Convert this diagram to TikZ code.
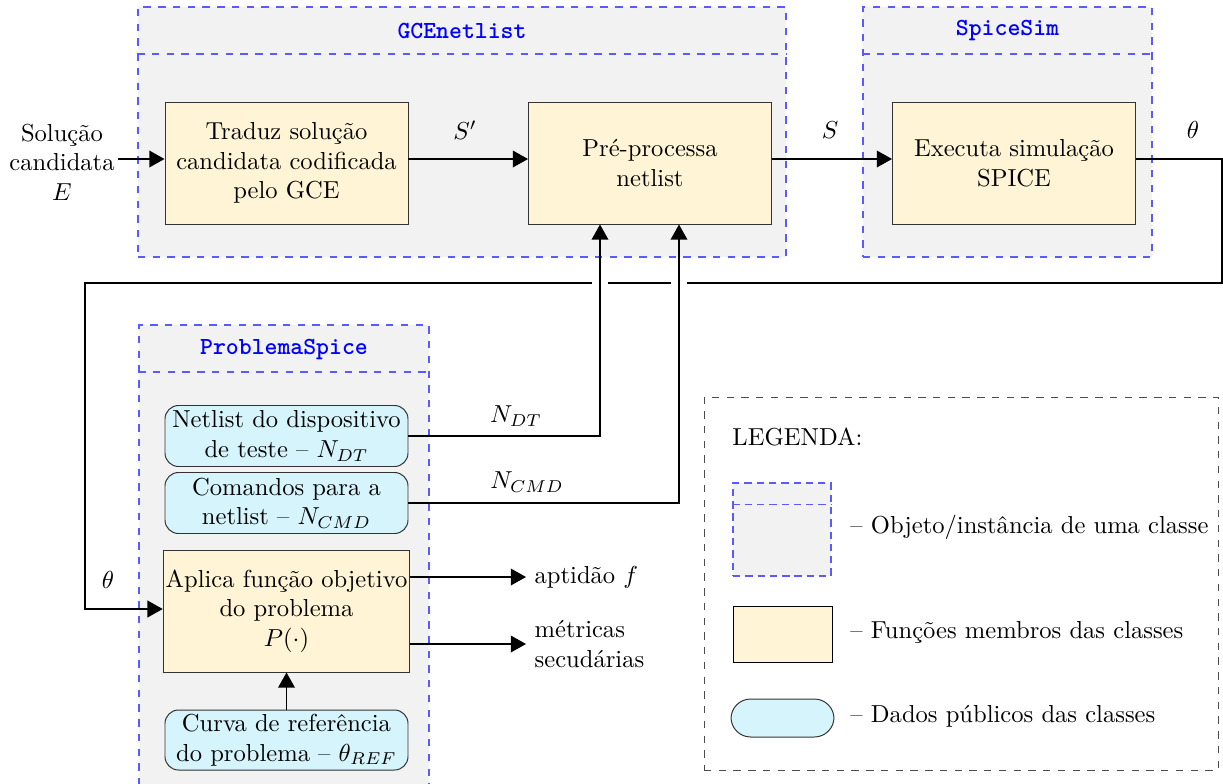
\documentclass[tikz,border=0pt]{standalone}
\usepackage{fontspec}
\usetikzlibrary{arrows.meta,calc}
\definecolor{clsfill}{HTML}{F2F2F2}
\definecolor{clsborder}{HTML}{5A5AFF}
\definecolor{fnfill}{HTML}{FFF4D5}
\definecolor{datafill}{HTML}{D5F4FC}
\definecolor{titleblue}{HTML}{0000FF}
\newcommand{\pxu}{0.407pt}
\begin{document}
\begin{tikzpicture}[x=0.407pt,y=-0.407pt,
  classbox/.style={draw=clsborder, dashed, fill=clsfill, line width=0.65pt, inner sep=0pt},
  hdrline/.style={draw=clsborder, dashed, line width=0.65pt},
  clstitle/.style={font=\ttfamily\bfseries, text=titleblue},
  fnbox/.style={draw=black!80, fill=fnfill, align=center, inner sep=1pt,
     minimum width=243*\pxu, minimum height=122*\pxu},
  databox/.style={draw=black!80, fill=datafill, align=center, inner sep=1pt,
     rounded corners=5.5pt, minimum width=243*\pxu, minimum height=61*\pxu},
  conn/.style={semithick, draw=black},
  arr/.style={conn, -{Triangle[length=6.2pt,width=6.8pt]}},
  lbl/.style={inner sep=1pt}]
\clip (0,0) rectangle (1223,783);
\fill[white] (0,0) rectangle (1223,783);

% class containers
\node[classbox, minimum width=648*\pxu, minimum height=250*\pxu] (gce) at (462,132) {};
\path[hdrline] ($(gce.north west)+(0,47.5)$) -- ($(gce.north east)+(0,47.5)$);
\node[clstitle] (gcet) at (462,31) {GCEnetlist};

\node[classbox, minimum width=289*\pxu, minimum height=250*\pxu] (sps) at (1007.5,132) {};
\path[hdrline] ($(sps.north west)+(0,47.5)$) -- ($(sps.north east)+(0,47.5)$);
\node[clstitle] (spst) at (1007.5,31) {SpiceSim};

\node[classbox, minimum width=290*\pxu, minimum height=500*\pxu] (prb) at (284,575) {};
\path[hdrline] ($(prb.north west)+(0,47.5)$) -- ($(prb.north east)+(0,47.5)$);
\node[clstitle] (prbt) at (284,350) {ProblemaSpice};

% function / data boxes
\node[fnbox] (trad) at (286.5,163) {Traduz solução\\candidata codificada\\pelo GCE};
\node[fnbox] (pre) at (650,163) {Pré-processa\\netlist};
\node[fnbox] (exe) at (1014,163) {Executa simulação\\SPICE};
\node[databox] (ndt) at (286.5,436) {Netlist do dispositivo\\de teste -- $N_{DT}$};
\node[databox] (ncmd) at (286.5,503) {Comandos para a\\netlist -- $N_{CMD}$};
\node[fnbox] (apl) at (286.5,611) {Aplica função objetivo\\do problema\\$P(\cdot)$};
\node[databox, minimum height=60*\pxu] (curva) at (286.5,740) {Curva de referência\\do problema -- $\theta_{REF}$};

% input
\node[align=center, inner sep=1pt] (inp) at (62,162) {Solução\\candidata\\$E$};

% labels
\node[lbl] (ls1) at (465,130) {$S'$};
\node[lbl] (ls2) at (830,130) {$S$};
\node[lbl] (lth1) at (1193,130) {$\theta$};
\node[lbl] (lth2) at (108,580) {$\theta$};
\node[lbl] (lndt) at (516,416) {$N_{DT}$};
\node[lbl] (lncmd) at (527,482) {$N_{CMD}$};
\node[anchor=west] (apt) at (526,577) {aptidão $f$};
\node[anchor=west, align=left] (met) at (526,644) {métricas\\secudárias};

% coordinates
\coordinate (a1) at ($(trad.west)+(0,-4)$);
\coordinate (tr) at (1222,283);
\coordinate (bl) at (85,283);
\coordinate (v1) at ($(pre.south)+(-50,0)$);
\coordinate (v2) at ($(pre.south)+(29,0)$);

% connectors
\draw[arr] (inp.east |- a1) -- (a1);
\draw[arr] ($(trad.east)+(0,-4)$) -- ($(pre.west)+(0,-4)$);
\draw[arr] ($(pre.east)+(0,-4)$) -- ($(exe.west)+(0,-4)$);
\draw[arr] ($(exe.east)+(0,-4)$) -| (tr) -- (bl) |- ($(apl.west)+(0,-2)$);
\draw[white, line width=6.5pt] ($(v1 |- bl)+(0,-8)$) -- ($(v1 |- bl)+(0,8)$);
\draw[white, line width=6.5pt] ($(v2 |- bl)+(0,-8)$) -- ($(v2 |- bl)+(0,8)$);
\draw[arr] (ndt.east) -| (v1);
\draw[arr] (ncmd.east) -| (v2);
\draw[arr] (apl.east |- apt.west) -- (apt.west);
\draw[arr] (apl.east |- met.west) -- (met.west);
\draw[arr] (curva.north) -- (apl.south);

% legend
\node[draw=black!70, dashed, thin, minimum width=514*\pxu, minimum height=373*\pxu, inner sep=0pt] (leg) at (961,583.5) {};
\node[anchor=west, inner sep=0pt] (legt) at (732,437) {LEGENDA:};
\node[draw=clsborder, densely dashed, line width=0.5pt, fill=clsfill, minimum width=98*\pxu, minimum height=93*\pxu, inner sep=0pt] (legc) at (782,529.5) {};
\path[draw=clsborder, densely dashed, line width=0.5pt] ($(legc.north west)+(0,22)$) -- ($(legc.north east)+(0,22)$);
\node[draw=black, fill=fnfill, minimum width=99*\pxu, minimum height=56*\pxu, inner sep=0pt] (legf) at (782.5,634) {};
\node[draw=black!80, fill=datafill, rounded corners=8pt, minimum width=103*\pxu, minimum height=38*\pxu, inner sep=0pt] (legd) at (782.5,718) {};
\node[anchor=west, inner sep=0pt] (legct) at (850,527) {-- Objeto/instância de uma classe};
\node[anchor=west, inner sep=0pt] (legft) at (850,632) {-- Funções membros das classes};
\node[anchor=west, inner sep=0pt] (legdt) at (850,716) {-- Dados públicos das classes};
\end{tikzpicture}
\end{document}
